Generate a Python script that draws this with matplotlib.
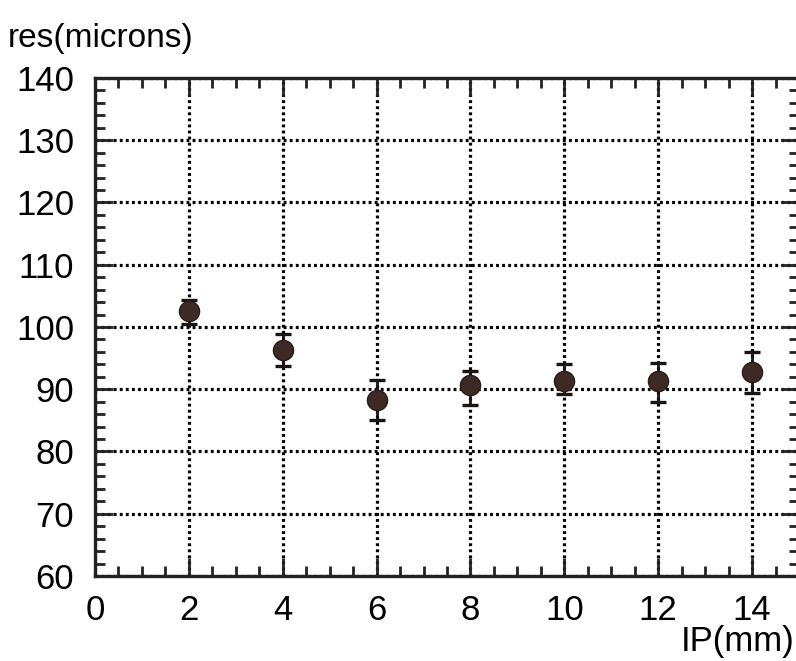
import matplotlib
matplotlib.use("Agg")
import matplotlib.pyplot as plt
from matplotlib.ticker import MultipleLocator

# IP position (mm) and resolution (microns)
ip_mm = [2, 4, 6, 8, 10, 12, 14]
res = [102.6, 96.3, 88.2, 90.7, 91.4, 91.3, 92.7]
res_hi = [104.4, 98.8, 91.5, 93.0, 94.0, 94.2, 96.0]
res_lo = [100.5, 93.7, 85.0, 87.5, 89.3, 88.0, 89.4]

x_ticks = [0, 2, 4, 6, 8, 10, 12, 14]
y_ticks = [60, 70, 80, 90, 100, 110, 120, 130, 140]

plt.rcParams["font.family"] = ["Liberation Sans", "DejaVu Sans"]

fig = plt.figure(figsize=(7.96, 6.61), dpi=100)
fig.patch.set_facecolor("white")
ax = fig.add_axes([95 / 796, 1 - 576 / 661, 704 / 796, 498 / 661])

err_lo = [r - l for r, l in zip(res, res_lo)]
err_hi = [h - r for r, h in zip(res, res_hi)]
ax.errorbar(ip_mm, res, yerr=[err_lo, err_hi], fmt="o", color="#2a1d18",
            markerfacecolor="#3d2a24", markeredgecolor="#2a1d18", markersize=14.5,
            ecolor="#1a1412", elinewidth=2, capsize=6, capthick=2.4, zorder=5)

ax.set_xlim(0, 15)
ax.set_ylim(60, 140)
ax.set_xticks(x_ticks)
ax.set_yticks(y_ticks)
ax.xaxis.set_minor_locator(MultipleLocator(0.5))
ax.yaxis.set_minor_locator(MultipleLocator(2))

ax.grid(True, which="major", color="black", linestyle=(0, (0.9, 1.0)), linewidth=2.3)
ax.set_axisbelow(True)

ax.tick_params(which="both", direction="in", top=True, right=True, width=2,
               color="#222222", labelsize=25, pad=15)
ax.tick_params(axis="x", which="major", pad=13)
ax.tick_params(which="major", length=13)
ax.tick_params(which="minor", length=7)
for s in ax.spines.values():
    s.set_linewidth(2.4)
    s.set_color("#222222")

fig.text(0.01, 1 - 38 / 661, "res(microns)", fontsize=24, va="center", ha="left")
fig.text(0.998, 0.004, "IP(mm)", fontsize=25, va="bottom", ha="right")

fig.savefig("out.png", dpi=100, facecolor="white")
